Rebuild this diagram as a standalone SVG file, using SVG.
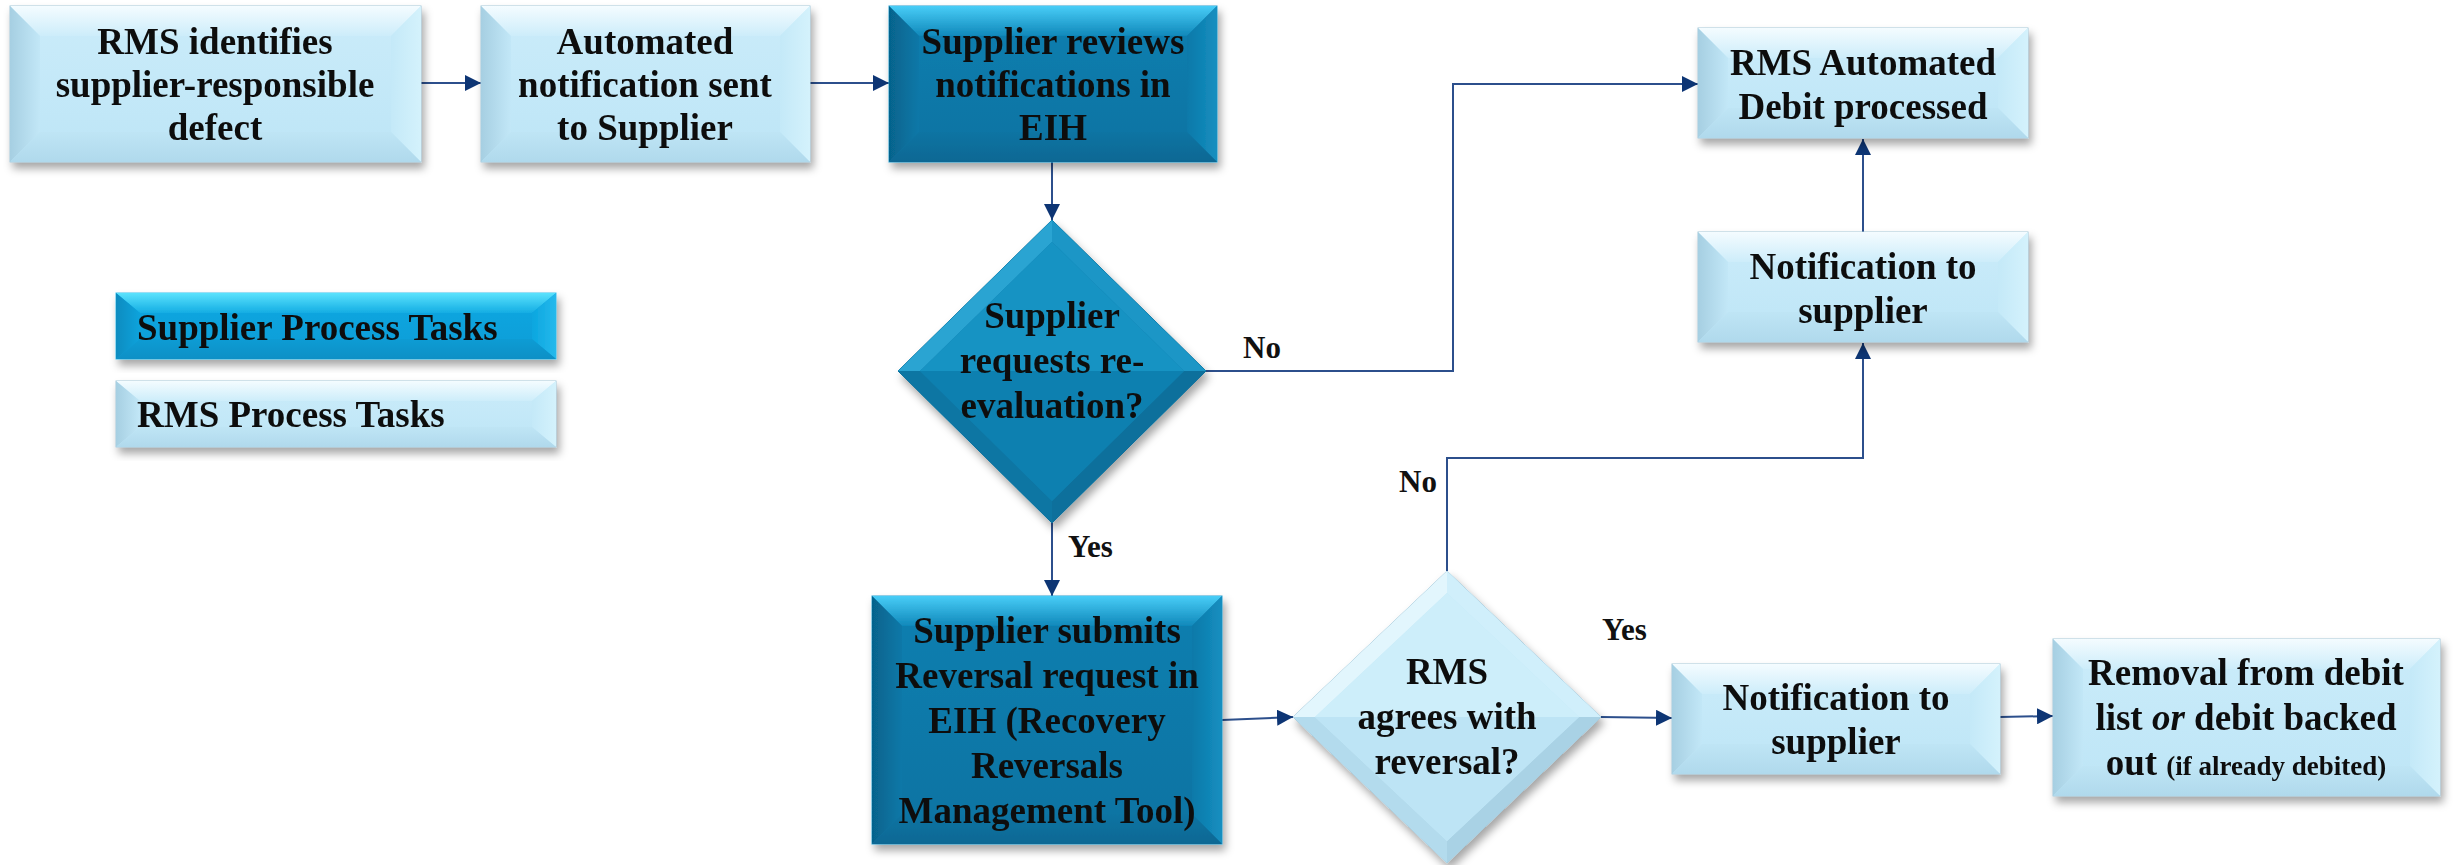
<svg xmlns="http://www.w3.org/2000/svg" width="2453" height="865" viewBox="0 0 2453 865">
  <defs>
    <!-- soft drop shadow under every shape -->
    <filter id="shadow" x="-10%" y="-10%" width="125%" height="130%">
      <feDropShadow dx="3" dy="6" stdDeviation="4" flood-color="#000" flood-opacity="0.35"/>
    </filter>
    <!-- light (RMS) bevel gradients -->
    <linearGradient id="lFace" x1="0" y1="0" x2="0" y2="1"><stop offset="0" stop-color="#cbecfa"/><stop offset="1" stop-color="#bde5f6"/></linearGradient>
    <linearGradient id="lTop" x1="0" y1="0" x2="0" y2="1"><stop offset="0" stop-color="#f4fcff"/><stop offset="1" stop-color="#cdedfa"/></linearGradient>
    <linearGradient id="lLeft" x1="0" y1="0" x2="1" y2="0"><stop offset="0" stop-color="#a6cfe2"/><stop offset="1" stop-color="#c2e7f7"/></linearGradient>
    <linearGradient id="lRight" x1="0" y1="0" x2="1" y2="0"><stop offset="0" stop-color="#c4e9f8"/><stop offset="1" stop-color="#d4f2fc"/></linearGradient>
    <linearGradient id="lBot" x1="0" y1="0" x2="0" y2="1"><stop offset="0" stop-color="#bfe5f5"/><stop offset="1" stop-color="#b0d9ec"/></linearGradient>
    <!-- dark (supplier) bevel gradients -->
    <linearGradient id="dFace" x1="0" y1="0" x2="0" y2="1"><stop offset="0" stop-color="#0c7fb0"/><stop offset="1" stop-color="#0873a2"/></linearGradient>
    <linearGradient id="dTop" x1="0" y1="0" x2="0" y2="1"><stop offset="0" stop-color="#48cdf7"/><stop offset="1" stop-color="#1088ba"/></linearGradient>
    <linearGradient id="dLeft" x1="0" y1="0" x2="1" y2="0"><stop offset="0" stop-color="#06638c"/><stop offset="1" stop-color="#0a78a8"/></linearGradient>
    <linearGradient id="dRight" x1="0" y1="0" x2="1" y2="0"><stop offset="0" stop-color="#0a79a9"/><stop offset="1" stop-color="#168fc0"/></linearGradient>
    <linearGradient id="dBot" x1="0" y1="0" x2="0" y2="1"><stop offset="0" stop-color="#0a74a3"/><stop offset="1" stop-color="#086894"/></linearGradient>
    <!-- bright cyan legend bevel gradients -->
    <linearGradient id="cFace" x1="0" y1="0" x2="0" y2="1"><stop offset="0" stop-color="#0aa8e2"/><stop offset="1" stop-color="#079cd6"/></linearGradient>
    <linearGradient id="cTop" x1="0" y1="0" x2="0" y2="1"><stop offset="0" stop-color="#5ae2fd"/><stop offset="1" stop-color="#14ade3"/></linearGradient>
    <linearGradient id="cLeft" x1="0" y1="0" x2="1" y2="0"><stop offset="0" stop-color="#078cc0"/><stop offset="1" stop-color="#0aa3dc"/></linearGradient>
    <linearGradient id="cRight" x1="0" y1="0" x2="1" y2="0"><stop offset="0" stop-color="#0ba6df"/><stop offset="1" stop-color="#26b9ec"/></linearGradient>
    <linearGradient id="cBot" x1="0" y1="0" x2="0" y2="1"><stop offset="0" stop-color="#0a9cd4"/><stop offset="1" stop-color="#0790c6"/></linearGradient>
    <marker id="arrow" markerUnits="userSpaceOnUse" markerWidth="17" markerHeight="16" refX="16" refY="8" orient="auto">
      <path d="M0,0 L16,8 L0,16 z" fill="#0d3574"/>
    </marker>
  </defs>
  <style>
    text { font-family: "Liberation Serif", "DejaVu Serif", serif; font-weight: bold; fill: #111; }
    .t { font-size: 37px; text-anchor: middle; }
    .lg { font-size: 37px; }
    .lbl { font-size: 31px; }
    .small { font-size: 27px; }
    .node { filter: url(#shadow); }
    .lf { fill: url(#lFace); stroke: #a3c6d7; stroke-width: 1; }
    .lt { fill: url(#lTop); } .ll { fill: url(#lLeft); } .lr { fill: url(#lRight); } .lb { fill: url(#lBot); }
    .df { fill: url(#dFace); stroke: #2a9fd0; stroke-width: 1; }
    .dt { fill: url(#dTop); } .dl { fill: url(#dLeft); } .dr { fill: url(#dRight); } .db { fill: url(#dBot); }
    .cf { fill: url(#cFace); stroke: #3cc2ee; stroke-width: 1; }
    .ct { fill: url(#cTop); } .cl { fill: url(#cLeft); } .cr { fill: url(#cRight); } .cb { fill: url(#cBot); }
    .conn { fill: none; stroke: #2c4f8c; stroke-width: 2; }
    .arr { marker-end: url(#arrow); }
  </style>

  <!-- connectors -->
  <g id="connectors">
    <path class="conn arr" d="M421,83 L481,83"/>
    <path class="conn arr" d="M810,83 L889,83"/>
    <path class="conn arr" d="M1052,162 L1052,220"/>
    <path class="conn arr" d="M1205,371 L1453,371 L1453,84 L1698,84"/>
    <path class="conn arr" d="M1052,523 L1052,596"/>
    <path class="conn arr" d="M1222,720 L1293,717"/>
    <path class="conn arr" d="M1447,571 L1447,458 L1863,458 L1863,343"/>
    <path class="conn arr" d="M1863,232 L1863,139"/>
    <path class="conn arr" d="M1601,717 L1672,718"/>
    <path class="conn arr" d="M2000,717 L2053,716"/>
    <text class="lbl" x="1243" y="358">No</text>
    <text class="lbl" x="1068" y="557">Yes</text>
    <text class="lbl" x="1399" y="492">No</text>
    <text class="lbl" x="1602" y="640">Yes</text>
  </g>

  <!-- RMS identifies supplier-responsible defect -->
  <g id="rms-identifies" class="node">
    <rect class="lf" x="10" y="6" width="411" height="156"/>
    <polygon class="lt" points="10,6 421,6 391,36 40,36"/>
    <polygon class="ll" points="10,6 40,36 40,132 10,162"/>
    <polygon class="lr" points="421,6 421,162 391,132 391,36"/>
    <polygon class="lb" points="10,162 40,132 391,132 421,162"/>
    <text class="t" x="215" y="54">RMS identifies</text>
    <text class="t" x="215" y="97">supplier-responsible</text>
    <text class="t" x="215" y="140">defect</text>
  </g>

  <!-- Automated notification sent to Supplier -->
  <g id="auto-notification" class="node">
    <rect class="lf" x="481" y="6" width="329" height="156"/>
    <polygon class="lt" points="481,6 810,6 780,36 511,36"/>
    <polygon class="ll" points="481,6 511,36 511,132 481,162"/>
    <polygon class="lr" points="810,6 810,162 780,132 780,36"/>
    <polygon class="lb" points="481,162 511,132 780,132 810,162"/>
    <text class="t" x="645" y="54">Automated</text>
    <text class="t" x="645" y="97">notification sent</text>
    <text class="t" x="645" y="140">to Supplier</text>
  </g>

  <!-- Supplier reviews notifications in EIH -->
  <g id="supplier-reviews" class="node">
    <rect class="df" x="889" y="6" width="328" height="156"/>
    <polygon class="dt" points="889,6 1217,6 1187,36 919,36"/>
    <polygon class="dl" points="889,6 919,36 919,132 889,162"/>
    <polygon class="dr" points="1217,6 1217,162 1187,132 1187,36"/>
    <polygon class="db" points="889,162 919,132 1187,132 1217,162"/>
    <text class="t" x="1053" y="54">Supplier reviews</text>
    <text class="t" x="1053" y="97">notifications in</text>
    <text class="t" x="1053" y="140">EIH</text>
  </g>

  <!-- Decision: Supplier requests re-evaluation? -->
  <g id="decision-reevaluation" class="node">
    <polygon fill="#0b7eae" stroke="#0a6f9a" stroke-width="1" points="1052,220 1206,371 1052,523 898,371"/>
    <polygon fill="#2ba4d2" points="1052,220 898,371 920,371 1052,242"/>
    <polygon fill="#1a96c6" points="1052,220 1206,371 1184,371 1052,242"/>
    <polygon fill="#0a76a3" points="898,371 1052,523 1052,501 920,371"/>
    <polygon fill="#08709c" points="1206,371 1052,523 1052,501 1184,371"/>
    <polygon fill="#1893c3" points="1052,242 1184,371 920,371"/>
    <polygon fill="#0b80b0" points="920,371 1184,371 1052,501"/>
    <text class="t" x="1052" y="328">Supplier</text>
    <text class="t" x="1052" y="373">requests re-</text>
    <text class="t" x="1052" y="418">evaluation?</text>
  </g>

  <!-- Supplier submits Reversal request -->
  <g id="supplier-submits" class="node">
    <rect class="df" x="872" y="596" width="350" height="248"/>
    <polygon class="dt" points="872,596 1222,596 1192,626 902,626"/>
    <polygon class="dl" points="872,596 902,626 902,814 872,844"/>
    <polygon class="dr" points="1222,596 1222,844 1192,814 1192,626"/>
    <polygon class="db" points="872,844 902,814 1192,814 1222,844"/>
    <text class="t" x="1047" y="643">Supplier submits</text>
    <text class="t" x="1047" y="688">Reversal request in</text>
    <text class="t" x="1047" y="733">EIH (Recovery</text>
    <text class="t" x="1047" y="778">Reversals</text>
    <text class="t" x="1047" y="823">Management Tool)</text>
  </g>

  <!-- Decision: RMS agrees with reversal? -->
  <g id="decision-rms-agrees" class="node">
    <polygon fill="#c4e9f8" stroke="#a3c6d7" stroke-width="1" points="1447,571 1601,717 1447,863 1293,717"/>
    <polygon fill="#e2f6fd" points="1447,571 1293,717 1315,717 1447,593"/>
    <polygon fill="#d0effb" points="1447,571 1601,717 1579,717 1447,593"/>
    <polygon fill="#b3dbed" points="1293,717 1447,863 1447,841 1315,717"/>
    <polygon fill="#a9d2e5" points="1601,717 1447,863 1447,841 1579,717"/>
    <polygon fill="#cdeefa" points="1447,593 1579,717 1315,717"/>
    <polygon fill="#bde4f5" points="1315,717 1579,717 1447,841"/>
    <text class="t" x="1447" y="684">RMS</text>
    <text class="t" x="1447" y="729">agrees with</text>
    <text class="t" x="1447" y="774">reversal?</text>
  </g>

  <!-- RMS Automated Debit processed -->
  <g id="debit-processed" class="node">
    <rect class="lf" x="1698" y="28" width="330" height="110"/>
    <polygon class="lt" points="1698,28 2028,28 1998,58 1728,58"/>
    <polygon class="ll" points="1698,28 1728,58 1728,108 1698,138"/>
    <polygon class="lr" points="2028,28 2028,138 1998,108 1998,58"/>
    <polygon class="lb" points="1698,138 1728,108 1998,108 2028,138"/>
    <text class="t" x="1863" y="75">RMS Automated</text>
    <text class="t" x="1863" y="119">Debit processed</text>
  </g>

  <!-- Notification to supplier (debit path) -->
  <g id="notify-debit" class="node">
    <rect class="lf" x="1698" y="232" width="330" height="110"/>
    <polygon class="lt" points="1698,232 2028,232 1998,262 1728,262"/>
    <polygon class="ll" points="1698,232 1728,262 1728,312 1698,342"/>
    <polygon class="lr" points="2028,232 2028,342 1998,312 1998,262"/>
    <polygon class="lb" points="1698,342 1728,312 1998,312 2028,342"/>
    <text class="t" x="1863" y="279">Notification to</text>
    <text class="t" x="1863" y="323">supplier</text>
  </g>

  <!-- Notification to supplier (reversal path) -->
  <g id="notify-reversal" class="node">
    <rect class="lf" x="1672" y="664" width="328" height="110"/>
    <polygon class="lt" points="1672,664 2000,664 1970,694 1702,694"/>
    <polygon class="ll" points="1672,664 1702,694 1702,744 1672,774"/>
    <polygon class="lr" points="2000,664 2000,774 1970,744 1970,694"/>
    <polygon class="lb" points="1672,774 1702,744 1970,744 2000,774"/>
    <text class="t" x="1836" y="710">Notification to</text>
    <text class="t" x="1836" y="754">supplier</text>
  </g>

  <!-- Removal from debit list -->
  <g id="removal" class="node">
    <rect class="lf" x="2053" y="639" width="387" height="157"/>
    <polygon class="lt" points="2053,639 2440,639 2410,669 2083,669"/>
    <polygon class="ll" points="2053,639 2083,669 2083,766 2053,796"/>
    <polygon class="lr" points="2440,639 2440,796 2410,766 2410,669"/>
    <polygon class="lb" points="2053,796 2083,766 2410,766 2440,796"/>
    <text class="t" x="2246" y="685">Removal from debit</text>
    <text class="t" x="2246" y="730">list <tspan font-style="italic">or</tspan> debit backed</text>
    <text class="t" x="2246" y="775">out <tspan class="small">(if already debited)</tspan></text>
  </g>

  <!-- Legend -->
  <g id="legend-supplier" class="node">
    <rect class="cf" x="116" y="293" width="440" height="66"/>
    <polygon class="ct" points="116,293 556,293 532,313 140,313"/>
    <polygon class="cl" points="116,293 140,313 140,339 116,359"/>
    <polygon class="cr" points="556,293 556,359 532,339 532,313"/>
    <polygon class="cb" points="116,359 140,339 532,339 556,359"/>
    <text class="lg" x="137" y="340">Supplier Process Tasks</text>
  </g>
  <g id="legend-rms" class="node">
    <rect class="lf" x="116" y="381" width="440" height="66"/>
    <polygon class="lt" points="116,381 556,381 532,401 140,401"/>
    <polygon class="ll" points="116,381 140,401 140,427 116,447"/>
    <polygon class="lr" points="556,381 556,447 532,427 532,401"/>
    <polygon class="lb" points="116,447 140,427 532,427 556,447"/>
    <text class="lg" x="137" y="427">RMS Process Tasks</text>
  </g>
</svg>
